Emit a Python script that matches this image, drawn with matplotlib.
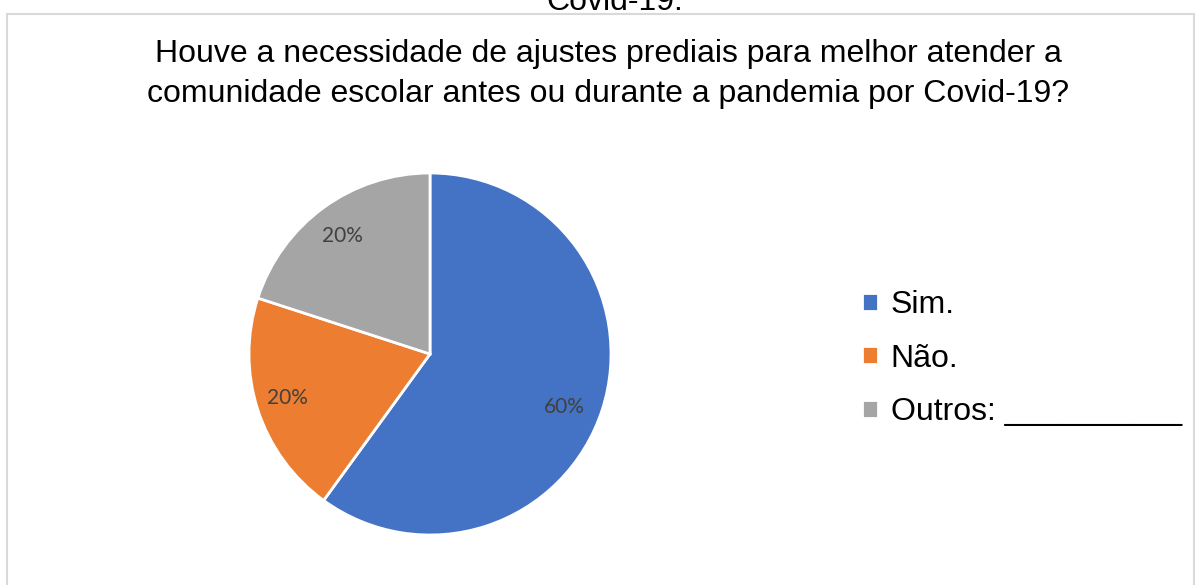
import matplotlib.pyplot as plt
from matplotlib.patches import Rectangle

labels = ["Sim.", "Não.", "Outros: __________"]
values = [60, 20, 20]
colors = ["#4472C4", "#ED7D31", "#A5A5A5"]
title = ("Houve a necessidade de ajustes prediais para melhor atender a\n"
         "comunidade escolar antes ou durante a pandemia por Covid-19?")

plt.rcParams['font.family'] = ['Liberation Sans', 'DejaVu Sans']

fig = plt.figure(figsize=(11.95, 5.85), dpi=100)
W, H = 1195, 585

# chart frame (cut off at the bottom)
fig.patches.append(Rectangle((7 / W, -0.1), (1194 - 7) / W, 1.1 - 14 / H,
                             transform=fig.transFigure, fill=False,
                             edgecolor="#D9D9D9", linewidth=1.5))

# caption text cut at the top of the image
fig.text(615 / W, 1 - 2 / H, "Covid-19.", ha="center", va="center", fontsize=23)

fig.text(608 / W, 1 - 74 / H, title, ha="center", va="center", fontsize=23,
         linespacing=1.45)

cx, cy, r = 430, 354, 181
ax = fig.add_axes([(cx - r) / W, 1 - (cy + r) / H, 2 * r / W, 2 * r / H])
wedges, _ = ax.pie(values, colors=colors, startangle=90, counterclock=False,
                   wedgeprops=dict(edgecolor="white", linewidth=2))
ax.set_xlim(-1, 1)
ax.set_ylim(-1, 1)
ax.set_aspect("equal")

lbl_pos = [(564, 407), (287, 398), (342, 236)]
for v, (lx, ly) in zip(values, lbl_pos):
    fig.text(lx / W, 1 - ly / H, f"{v}%", ha="center", va="center",
             fontsize=15, color="#404040", family=["Lato", "DejaVu Sans"])

leg = fig.legend(wedges, labels, loc="upper left",
                 bbox_to_anchor=(862 / W, 1 - 290 / H), frameon=False,
                 fontsize=23, handlelength=0.5, handleheight=0.5,
                 handletextpad=0.4, labelspacing=0.74, borderpad=0,
                 borderaxespad=0)

fig.savefig("out.png", dpi=100)
